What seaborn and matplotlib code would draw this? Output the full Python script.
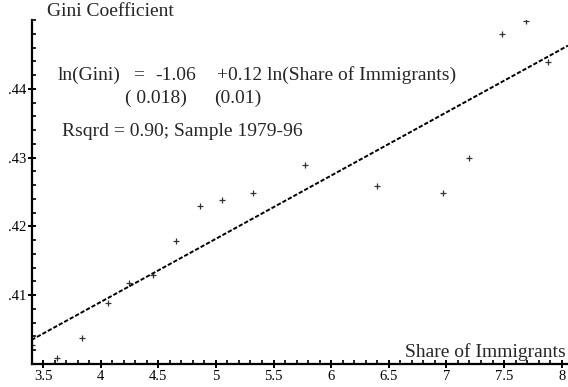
import numpy as np
import pandas as pd
import matplotlib
matplotlib.use("Agg")
import matplotlib.pyplot as plt
from matplotlib.ticker import MultipleLocator, FixedLocator, FixedFormatter
import seaborn as sns

# Share of immigrants (%) and Gini coefficient, annual observations 1979-96
share = [3.40, 3.62, 3.84, 4.06, 4.25, 4.45, 4.65, 4.86, 5.05, 5.32,
         5.77, 6.40, 6.97, 7.20, 7.48, 7.69, 7.88]
gini = [0.4028, 0.4008, 0.4038, 0.4089, 0.4118, 0.4129, 0.4179, 0.4229,
        0.4239, 0.4249, 0.4289, 0.4259, 0.4249, 0.4299, 0.4479, 0.4499, 0.4439]

x_ticks = [3.5, 4, 4.5, 5, 5.5, 6, 6.5, 7, 7.5, 8]
x_labels = ["3.5", "4", "4.5", "5", "5.5", "6", "6.5", "7", "7.5", "8"]
y_ticks = [0.41, 0.42, 0.43, 0.44]
y_labels = [".41", ".42", ".43", ".44"]

df = pd.DataFrame({"share": share, "gini": gini})

sns.set_theme(style="white")
plt.rcParams["font.family"] = ["Liberation Serif", "DejaVu Serif"]

W, H = 568, 387
fig = plt.figure(figsize=(W / 100, H / 100), dpi=100)
left, right, top, bottom = 31.5, 568, 20, 364
ax = fig.add_axes([left / W, 1 - bottom / H, (right - left) / W, (bottom - top) / H])

xlim = (3.4, 8.055)
ylim = (0.400, 0.450)
ax.set_xlim(*xlim)
ax.set_ylim(*ylim)

sns.regplot(data=df, x="share", y="gini", ax=ax, ci=None, truncate=False,
            marker="+", color="black",
            scatter_kws={"s": 18, "linewidths": 0.9, "color": "black"},
            line_kws={"ls": (0, (2.2, 1.0)), "lw": 1.4, "color": "black"})
ax.set_xlim(*xlim)
ax.set_ylim(*ylim)
ax.set_xlabel("")
ax.set_ylabel("")

for s in ["top", "right"]:
    ax.spines[s].set_visible(False)
for s in ["left", "bottom"]:
    ax.spines[s].set_linewidth(1.6)
    ax.spines[s].set_color("black")

ax.xaxis.set_major_locator(FixedLocator(x_ticks))
ax.xaxis.set_major_formatter(FixedFormatter(x_labels))
ax.xaxis.set_minor_locator(MultipleLocator(0.1))
ax.yaxis.set_major_locator(FixedLocator(y_ticks))
ax.yaxis.set_major_formatter(FixedFormatter(y_labels))
ax.yaxis.set_minor_locator(MultipleLocator(0.002))

ax.tick_params(which="major", direction="inout", length=6, width=1.4,
               color="black", labelsize=10.5, labelcolor="black", pad=1)
ax.tick_params(which="minor", direction="in", length=3, width=1.2, color="black")
ax.tick_params(axis="x", which="both", bottom=True)
ax.tick_params(axis="y", which="both", left=True)

def px(x, y):
    return x / W, 1 - y / H

fs = 14
fig.text(*px(47, 12), "Gini Coefficient", fontsize=fs, ha="left", va="center")
fig.text(*px(566, 352), "Share of Immigrants", fontsize=fs, ha="right", va="center")
fig.text(*px(58, 75), "ln(Gini)", fontsize=fs, ha="left", va="center")
fig.text(*px(133, 75), "=", fontsize=fs, ha="left", va="center")
fig.text(*px(155, 75), "-1.06", fontsize=fs, ha="left", va="center")
fig.text(*px(217, 75), "+0.12 ln(Share of Immigrants)", fontsize=fs, ha="left", va="center")
fig.text(*px(125, 98), "( 0.018)", fontsize=fs, ha="left", va="center")
fig.text(*px(214, 98), "(0.01)", fontsize=fs, ha="left", va="center")
fig.text(*px(62, 132), "Rsqrd = 0.90; Sample 1979-96", fontsize=fs, ha="left", va="center")

fig.savefig("out.png", dpi=100, facecolor="white")
